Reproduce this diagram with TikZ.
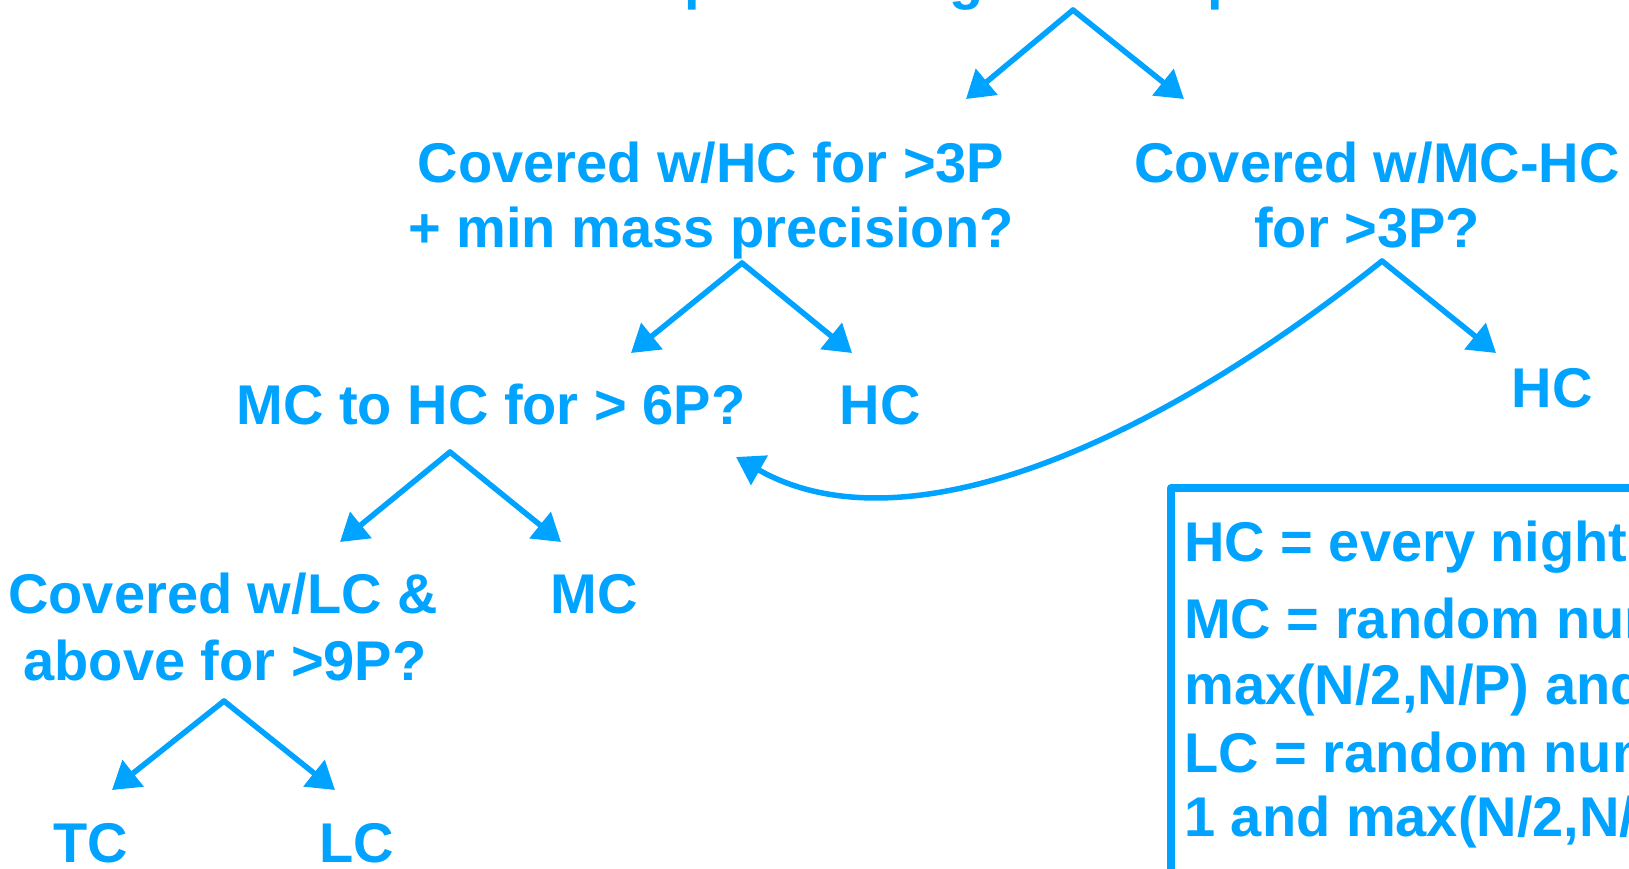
\documentclass[tikz,border=0pt]{standalone}
\usepackage{fontspec}
\setmainfont{Liberation Sans}
\usetikzlibrary{arrows.meta}
\definecolor{skyblue}{RGB}{0,163,255}
\begin{document}
\begin{tikzpicture}[x=1pt,y=-1pt,
  lbl/.style={anchor=base, inner sep=0pt, text=skyblue,
    font=\fontsize{56}{64}\selectfont\bfseries},
  lbll/.style={lbl, anchor=base west},
  branch/.style={draw=skyblue, line width=5.5pt, line cap=round, line join=round,
    -{Triangle[length=27pt,width=33pt]}},
  keybox/.style={draw=skyblue, line width=8pt, line join=round},
]
\useasboundingbox (0,0) rectangle (1629,868);
\clip (0,0) rectangle (1629,868);

% question nodes
\node[lbll] (q0) at (616,-2) {Expected to get mass precision?};
\node[lbl] (qa) at (711,182) {Covered w/HC for >3P};
\node[lbl] (qa2) at (711,247) {+ min mass precision?};
\node[lbl] (qb) at (1377,182) {Covered w/MC-HC};
\node[lbl] (qb2) at (1367,247) {for >3P?};
\node[lbl] (qc) at (491,424) {MC to HC for > 6P?};
\node[lbl] (hc1) at (880,424) {HC};
\node[lbl] (hc2) at (1552,407) {HC};
\node[lbl] (qf) at (223,613) {Covered w/LC \&};
\node[lbl] (qf2) at (225,680) {above for >9P?};
\node[lbl] (mc) at (594,613) {MC};
\node[lbl] (tc) at (91,862) {TC};
\node[lbl] (lc) at (357,862) {LC};

% branching points and arrow ends
\coordinate (p0) at (1073,10);
\coordinate (pa) at (742,263);
\coordinate (pb) at (1382,261);
\coordinate (pc) at (450,452);
\coordinate (pf) at (224,701);
\coordinate (ta) at (966,99);
\coordinate (tb) at (1184,99);
\coordinate (tc1) at (631,353);
\coordinate (td) at (852,353);
\coordinate (te) at (1496,353);
\coordinate (tq) at (736,457);
\coordinate (tf) at (340,542);
\coordinate (tg) at (561,542);
\coordinate (th) at (112,790);
\coordinate (ti) at (335,790);

\draw[branch] (p0) -- (ta);
\draw[branch] (p0) -- (tb);
\draw[branch] (pa) -- (tc1);
\draw[branch] (pa) -- (td);
\draw[branch] (pb) -- (te);
\draw[branch] (pb) .. controls (1133,459) and (896,548) .. (tq);
\draw[branch] (pc) -- (tf);
\draw[branch] (pc) -- (tg);
\draw[branch] (pf) -- (th);
\draw[branch] (pf) -- (ti);

% key box
\draw[keybox] (1171,960) -- (1171,488) -- (1720,488);
\node[lbll] (k1) at (1184,561) {HC = every night};
\node[lbll] (k2) at (1184,638) {MC = random number between};
\node[lbll] (k3) at (1184,704) {max(N/2,N/P) and N};
\node[lbll] (k4) at (1184,772) {LC = random number between};
\node[lbll] (k5) at (1184,836) {1 and max(N/2,N/P)};
\end{tikzpicture}
\end{document}
